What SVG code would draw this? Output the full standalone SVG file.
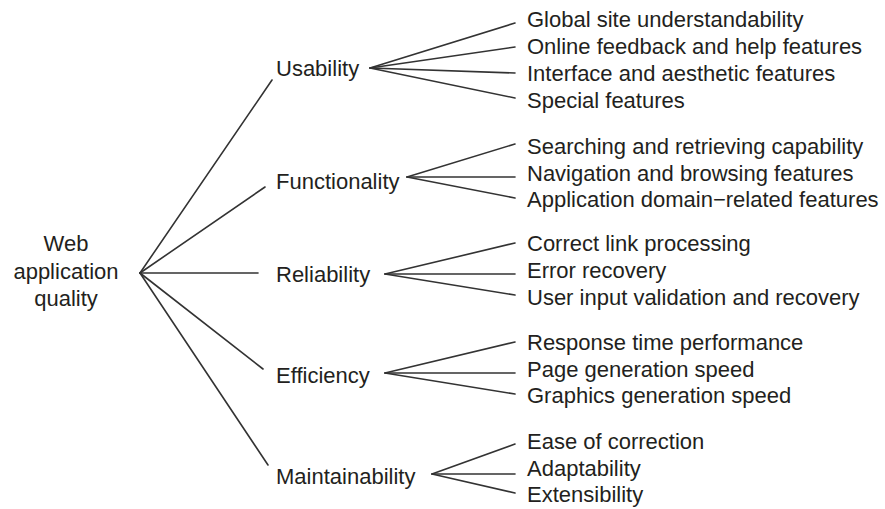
<svg xmlns="http://www.w3.org/2000/svg" width="885" height="509" viewBox="0 0 885 509">
<style>
text{font-family:"Liberation Sans",Arial,sans-serif;font-size:22px;fill:#231f20}
.c line{stroke:#333;stroke-width:1.6;stroke-linecap:round}
</style>
<rect width="885" height="509" fill="#fff"/>
<g class="c" id="connectors">
<line x1="140" y1="273" x2="272" y2="80"/>
<line x1="140" y1="273" x2="265" y2="187"/>
<line x1="140" y1="273" x2="258" y2="273"/>
<line x1="140" y1="273" x2="263" y2="369"/>
<line x1="140" y1="273" x2="268" y2="465"/>
<line x1="370" y1="68" x2="515" y2="23"/>
<line x1="370" y1="68" x2="515" y2="47"/>
<line x1="370" y1="68" x2="515" y2="73"/>
<line x1="370" y1="68" x2="515" y2="98"/>
<line x1="407" y1="177" x2="515" y2="144"/>
<line x1="407" y1="177" x2="515" y2="177"/>
<line x1="407" y1="177" x2="515" y2="198"/>
<line x1="385" y1="274" x2="515" y2="243"/>
<line x1="385" y1="274" x2="515" y2="274"/>
<line x1="385" y1="274" x2="515" y2="295"/>
<line x1="385" y1="373" x2="515" y2="342"/>
<line x1="385" y1="373" x2="515" y2="373"/>
<line x1="385" y1="373" x2="515" y2="394"/>
<line x1="432" y1="474" x2="515" y2="444"/>
<line x1="432" y1="474" x2="515" y2="474"/>
<line x1="432" y1="474" x2="515" y2="493"/>
</g>
<g id="root">
<text x="66" y="251" text-anchor="middle">Web</text>
<text x="66" y="279" text-anchor="middle">application</text>
<text x="66" y="306" text-anchor="middle">quality</text>
</g>
<g id="usability"><text x="276" y="76">Usability</text></g>
<g id="functionality"><text x="276" y="189">Functionality</text></g>
<g id="reliability"><text x="276" y="282">Reliability</text></g>
<g id="efficiency"><text x="276" y="383">Efficiency</text></g>
<g id="maintainability"><text x="276" y="484">Maintainability</text></g>
<g id="u1"><text x="527" y="27">Global site understandability</text></g>
<g id="u2"><text x="527" y="54">Online feedback and help features</text></g>
<g id="u3"><text x="527" y="81">Interface and aesthetic features</text></g>
<g id="u4"><text x="527" y="108">Special features</text></g>
<g id="f1"><text x="527" y="154">Searching and retrieving capability</text></g>
<g id="f2"><text x="527" y="181">Navigation and browsing features</text></g>
<g id="f3"><text x="527" y="207">Application domain−related features</text></g>
<g id="r1"><text x="527" y="251">Correct link processing</text></g>
<g id="r2"><text x="527" y="278">Error recovery</text></g>
<g id="r3"><text x="527" y="305">User input validation and recovery</text></g>
<g id="e1"><text x="527" y="350">Response time performance</text></g>
<g id="e2"><text x="527" y="377">Page generation speed</text></g>
<g id="e3"><text x="527" y="403">Graphics generation speed</text></g>
<g id="m1"><text x="527" y="449">Ease of correction</text></g>
<g id="m2"><text x="527" y="476">Adaptability</text></g>
<g id="m3"><text x="527" y="502">Extensibility</text></g>
</svg>
